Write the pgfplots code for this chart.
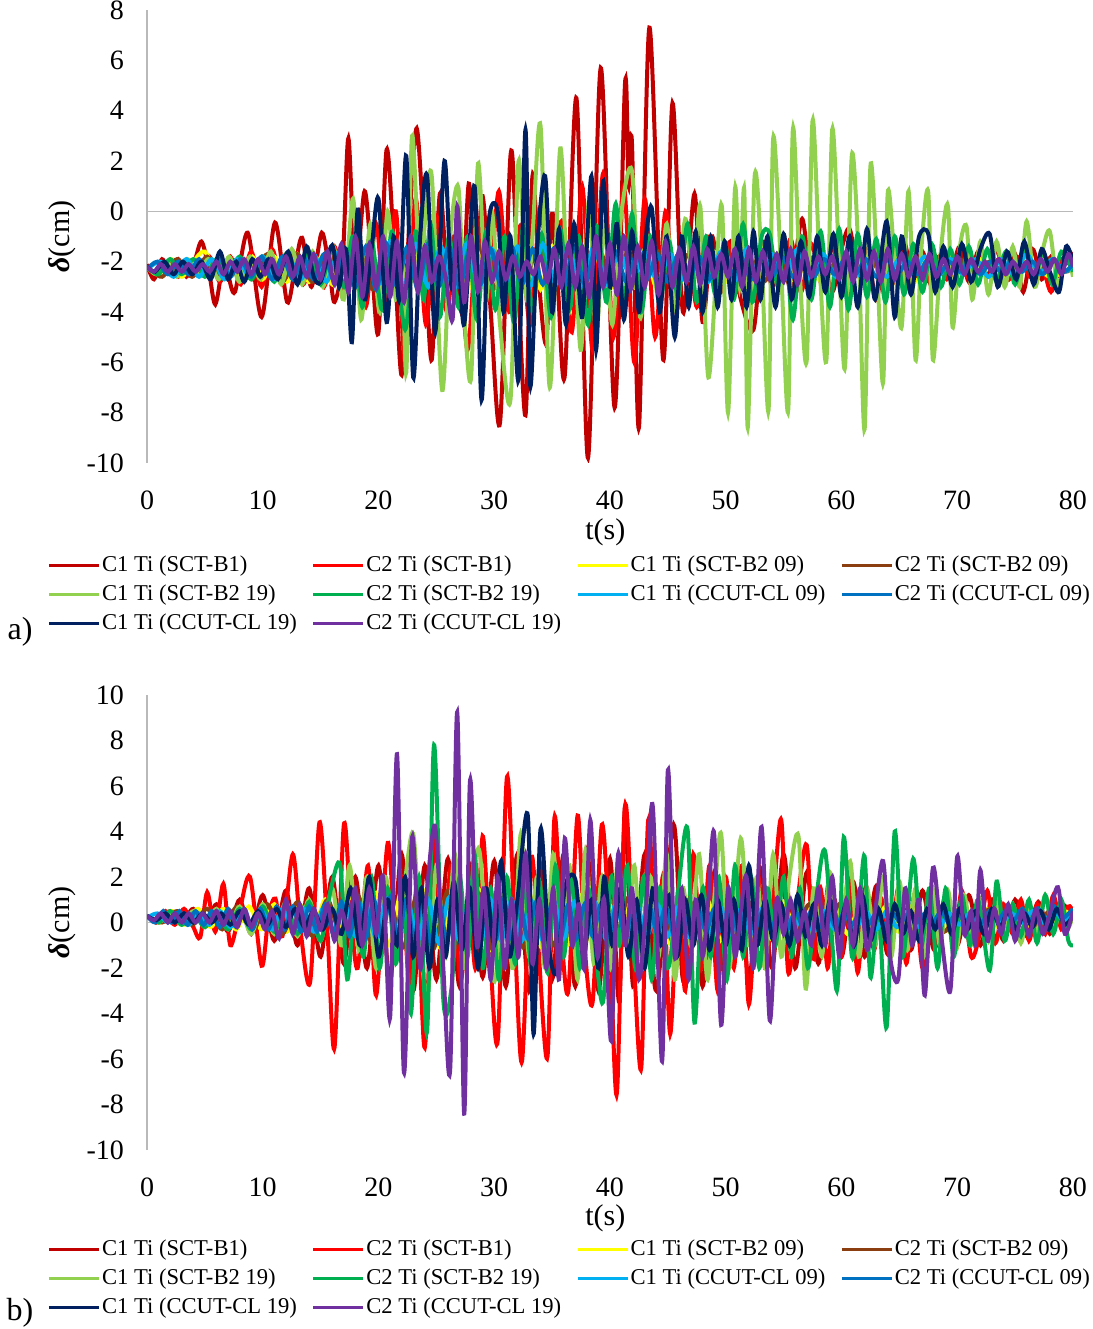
\documentclass[border=0pt]{standalone}
\usepackage{fontspec}
\setmainfont{Liberation Serif}
\usepackage{pgfplots}
\pgfplotsset{compat=1.18}
\definecolor{cA}{HTML}{C00000}
\definecolor{cB}{HTML}{FF0000}
\definecolor{cC}{HTML}{FFFF00}
\definecolor{cD}{HTML}{8B3E10}
\definecolor{cE}{HTML}{92D050}
\definecolor{cF}{HTML}{00B050}
\definecolor{cG}{HTML}{00B0F0}
\definecolor{cH}{HTML}{0070C0}
\definecolor{cI}{HTML}{002060}
\definecolor{cJ}{HTML}{7030A0}
\pgfplotsset{common/.style={
  scale only axis, width=463pt, xmin=0, xmax=80, xtick={0,10,...,80},
  axis lines*=left, x axis line style={draw=none},
  y axis line style={-, draw=gray!55, line width=0.7pt},
  major tick length=0pt,
  tick label style={font=\fontsize{14}{16}\selectfont},
  /pgf/number format/assume math mode=true,
  xticklabel style={yshift=-10.5pt}, yticklabel style={xshift=-8pt},
  extra y ticks={0}, extra y tick labels={},
  extra y tick style={ymajorgrids=true, major grid style={gray!55, line width=0.7pt}},
  xlabel={t(s)}, ylabel={\textbf{\textit{δ}}(cm)},
  label style={font=\fontsize{15}{18}\selectfont},
  ylabel style={at={(axis description cs:-0.092,0.5)}, anchor=center},
  every axis plot/.append style={line width=2pt, smooth, no markers},
  legend columns=4, legend cell align=left,
  legend style={draw=none, fill=none, anchor=north west, inner sep=0pt,
    font=\fontsize{11.3}{13}\selectfont, row sep=0pt,
    /tikz/every even column/.append style={column sep=6.6pt},
    nodes={inner xsep=0.75pt, inner ysep=1.5pt, text height=8.8pt, text depth=2.7pt}},
  legend image code/.code={\draw[line width=1.6pt] (0pt,0pt) -- (25pt,0pt);}
}}
\begin{document}
\begin{tikzpicture}
\path[use as bounding box] (0,0) rectangle (546.5pt,664.5pt);
% ---------------- panel a ----------------
\begin{axis}[common, at={(73.5pt,433pt)}, anchor=south west, height=226.5pt,
  ymin=-10, ymax=8, ytick={-10,-8,...,8},
  xlabel style={at={(axis description cs:0.495,-0.154)}, anchor=center},
  legend style={at={(axis description cs:-0.108,-0.193)}}]
\addplot[cA] coordinates {(0,-2.1)(0.6,-2.7)(1.3,-1.9)(2.0,-2.5)(2.7,-1.9)(3.4,-2.6)(4.1,-2.0)(4.7,-1.2)(5.3,-2.2)(5.9,-3.7)(6.6,-2.0)(7.0,-2.5)(7.6,-3.2)(8.7,-0.85)(9.9,-4.2)(11.06,-0.45)(12.1,-3.6)(12.8,-2.2)(13.4,-1.05)(14.2,-3.0)(15.1,-0.85)(15.8,-2.5)(16.2,-3.6)(16.9,-2.0)(17.4,2.9)(18.0,-2.4)(18.8,0.8)(19.4,-2.0)(20.0,-4.8)(20.7,2.45)(21.4,-2.0)(22.0,-6.5)(22.6,-1.0)(23.3,3.3)(24.0,-1.5)(24.6,-5.9)(25.3,0.7)(26.0,-3.0)(26.5,-1.0)(27.2,-4.0)(27.8,1.1)(28.4,-2.5)(29.0,0.6)(29.7,-4.0)(30.5,-8.4)(31.4,2.2)(31.9,-1.0)(32.7,-8.1)(33.3,1.4)(33.9,-3.0)(34.5,-5.2)(35.0,-0.1)(35.5,-3.0)(36.1,-6.5)(37.1,4.5)(38.1,-9.8)(39.2,5.7)(40.4,-7.8)(41.3,5.1)(41.6,1.0)(41.9,2.7)(42.5,-8.6)(43.4,7.3)(44.6,-5.9)(45.4,4.3)(46.3,-4.0)(47.3,0.7)(48.0,-4.4)(48.8,-1.0)(49.6,-3.2)(50.4,-1.2)(51.3,-3.5)(52.4,-4.7)(53.2,-1.2)(54.0,-3.0)(54.8,-1.5)(55.6,-3.0)(56.6,-0.3)(57.4,-3.0)(58.2,-1.5)(59.2,-3.2)(60.0,-1.5)(60.7,-0.7)(61.5,-2.5)(62.2,-1.5)(63.0,-3.5)(63.8,-1.5)(64.6,-2.8)(65.4,-1.2)(66.2,-2.8)(67.0,-1.6)(67.8,-3.0)(68.6,-1.7)(69.4,-2.6)(70.2,-1.4)(71.0,-2.8)(71.8,-1.6)(72.6,-2.6)(73.4,-1.5)(74.2,-2.8)(75.0,-1.7)(75.7,-3.2)(76.5,-1.5)(77.3,-2.7)(78.1,-1.8)(78.9,-2.6)(79.5,-1.6)(80,-1.8)};
\addlegendentry{C1 Ti (SCT-B1)}
\addplot[cB] coordinates {(0,-2.2)(0.9,-2.5)(1.8,-2.0)(2.7,-2.6)(3.6,-2.0)(4.5,-2.5)(5.4,-1.8)(6.3,-2.8)(7.2,-1.8)(8.1,-2.9)(9.0,-1.6)(9.9,-3.0)(10.8,-1.5)(11.7,-2.9)(12.6,-1.6)(13.5,-2.9)(14.4,-1.7)(15.3,-3.0)(16.2,-1.4)(17.1,-3.2)(18.0,-0.9)(18.9,-3.8)(19.8,-0.5)(20.6,-4.0)(21.5,0.0)(22.3,-6.0)(23.2,0.5)(24.1,-4.5)(25.0,-0.2)(25.9,-4.0)(26.8,-0.8)(27.7,-5.5)(28.6,-0.4)(29.5,-3.5)(30.4,0.8)(31.3,-4.0)(32.2,-0.6)(33.1,-4.5)(34.0,0.2)(34.9,-4.0)(35.8,-0.4)(36.7,-4.8)(37.6,1.0)(38.5,-5.5)(39.4,1.5)(40.3,-5.0)(41.2,1.0)(42.1,-6.0)(43.0,0.5)(43.9,-5.0)(44.8,0.0)(45.7,-4.0)(46.6,-0.8)(47.5,-3.8)(48.4,-1.0)(49.3,-3.0)(50.2,-1.3)(51.1,-3.2)(52.0,-1.5)(52.9,-3.0)(53.8,-1.3)(54.7,-3.0)(55.6,-1.1)(56.5,-3.2)(57.4,-1.3)(58.3,-2.9)(59.2,-1.4)(60.1,-3.0)(61.0,-1.5)(61.9,-2.8)(62.8,-1.6)(63.7,-2.8)(64.6,-1.7)(65.5,-2.7)(66.4,-1.7)(67.3,-2.8)(68.2,-1.8)(69.1,-2.7)(70.0,-1.8)(70.9,-2.6)(71.8,-1.9)(72.7,-2.6)(73.6,-1.9)(74.5,-2.7)(75.4,-1.8)(76.3,-2.6)(77.2,-1.9)(78.1,-3.2)(79.0,-1.9)(80,-2.3)};
\addlegendentry{C2 Ti (SCT-B1)}
\addplot[cC] coordinates {(0,-2.2)(1.0,-2.5)(2.1,-1.9)(3.0,-2.6)(4.0,-2.0)(5.0,-1.6)(6.1,-2.6)(7.0,-1.9)(8.0,-2.6)(9.1,-1.8)(10.0,-2.7)(11.0,-1.8)(12.1,-2.8)(13.0,-1.7)(14.0,-2.8)(15.1,-1.8)(16.0,-2.9)(17.0,-1.6)(18.1,-3.0)(19.0,-1.5)(20.0,-3.1)(21.1,-1.5)(22.0,-3.2)(23.0,-1.4)(24.1,-3.0)(25.0,-1.5)(26.0,-3.1)(27.1,-1.4)(28.0,-3.0)(29.0,-1.5)(30.1,-3.2)(31.0,-1.3)(32.0,-3.0)(33.1,-1.4)(34.0,-3.1)(35.0,-1.4)(36.1,-3.0)(37.0,-1.5)(38.0,-3.0)(39.1,-1.4)(40.0,-3.1)(41.0,-1.5)(42.1,-3.0)(43.0,-1.5)(44.0,-3.0)(45.1,-1.6)(46.0,-2.9)(47.0,-1.6)(48.1,-2.9)(49.0,-1.6)(50.0,-2.8)(51.1,-1.7)(52.0,-2.9)(53.0,-1.7)(54.1,-2.8)(55.0,-1.7)(56.0,-2.8)(57.1,-1.8)(58.0,-2.7)(59.0,-1.7)(60.1,-2.8)(61.0,-1.8)(62.0,-2.7)(63.1,-1.8)(64.0,-2.8)(65.0,-1.8)(66.1,-3.0)(67.0,-1.8)(68.0,-2.7)(69.1,-1.9)(70.0,-2.6)(72.0,-1.9)(74.0,-2.6)(76.0,-1.9)(78.0,-2.6)(80,-2.2)};
\addlegendentry{C1 Ti (SCT-B2 09)}
\addplot[cD] coordinates {(0,-2.2)(1.3,-2.6)(2.6,-1.9)(3.9,-2.6)(5.2,-1.8)(6.5,-2.7)(7.8,-1.9)(9.1,-2.7)(10.4,-1.7)(11.7,-2.8)(13.0,-1.7)(14.3,-2.8)(15.6,-1.6)(16.9,-2.9)(18.2,-1.4)(19.5,-3.1)(20.8,-1.3)(22.1,-3.2)(23.4,-1.3)(24.7,-3.1)(26.0,-1.4)(27.3,-3.2)(28.6,-1.3)(29.9,-3.1)(31.2,-1.4)(32.5,-3.0)(33.8,-1.4)(35.1,-3.1)(36.4,-1.5)(37.7,-3.0)(39.0,-1.5)(40.3,-2.9)(41.6,-1.6)(42.9,-2.9)(44.2,-1.6)(45.5,-2.8)(46.8,-1.7)(48.1,-2.8)(49.4,-1.7)(50.7,-2.7)(52.0,-1.8)(53.3,-2.8)(54.6,-1.7)(55.9,-2.7)(57.2,-1.8)(58.5,-2.7)(59.8,-1.8)(61.1,-2.6)(62.4,-1.9)(63.7,-2.6)(65.0,-1.9)(66.3,-2.6)(67.6,-1.9)(68.9,-2.5)(70.2,-1.9)(71.5,-2.5)(72.8,-2.0)(74.1,-2.5)(75.4,-2.0)(76.7,-2.5)(78.0,-1.9)(79.3,-2.4)(80,-2.2)};
\addlegendentry{C2 Ti (SCT-B2 09)}
\addplot[cE] coordinates {(0,-2.2)(0.8,-2.5)(1.7,-2.0)(2.6,-2.6)(3.5,-1.9)(4.4,-2.5)(5.3,-1.9)(6.2,-2.7)(7.1,-1.8)(8.0,-2.8)(8.9,-1.8)(9.8,-2.7)(10.7,-1.6)(11.6,-2.9)(12.5,-1.5)(13.4,-2.9)(14.3,-1.6)(15.2,-3.0)(16.1,-1.4)(17.0,-3.5)(17.8,0.5)(18.5,-4.3)(19.3,-0.5)(20.1,-4.0)(20.8,0.0)(21.5,-3.5)(22.0,-1.0)(22.4,-6.4)(22.9,3.0)(23.6,-3.0)(24.0,-0.5)(24.6,1.4)(25.5,-7.1)(26.2,-1.0)(26.9,0.95)(27.4,-4.0)(28.0,-6.6)(28.6,1.9)(29.3,-3.5)(29.8,0.0)(30.5,-4.5)(31.4,-7.5)(32.1,2.0)(32.8,-3.5)(33.3,-1.0)(34.0,3.4)(34.8,-7.0)(35.7,2.5)(36.4,-4.0)(36.9,-1.5)(37.5,-5.5)(38.2,0.5)(38.8,-5.0)(39.5,-0.5)(40.2,-4.5)(41.0,0.0)(41.9,1.6)(42.6,-4.2)(43.4,-1.0)(44.2,-3.5)(44.9,-0.5)(45.7,-4.0)(46.5,-0.3)(47.2,-3.0)(47.8,0.2)(48.5,-6.6)(49.3,-1.5)(49.7,0.0)(50.2,-8.0)(50.8,0.9)(51.2,-3.0)(51.6,0.85)(51.9,-8.6)(52.5,1.4)(53.1,-2.0)(53.7,-7.9)(54.1,2.9)(54.8,-2.5)(55.4,-7.9)(55.8,3.25)(56.4,-2.5)(57.0,-5.9)(57.5,3.6)(58.1,-2.0)(58.7,-5.9)(59.2,3.25)(59.8,-2.0)(60.3,-6.2)(60.9,2.25)(61.5,-2.0)(62.0,-8.65)(62.5,1.8)(63.1,-2.5)(63.6,-6.8)(64.0,0.75)(64.6,-2.0)(65.2,-4.6)(65.8,0.8)(66.4,-5.9)(66.9,-1.5)(67.5,0.75)(67.9,-5.9)(68.6,-1.5)(69.2,0.2)(69.6,-4.6)(70.2,-1.5)(70.8,-0.6)(71.3,-3.5)(72.0,-1.2)(72.7,-3.3)(73.4,-1.2)(74.1,-3.0)(74.8,-1.4)(75.4,-3.0)(76.0,-0.4)(76.7,-3.0)(77.4,-1.5)(78.0,-0.8)(78.7,-3.0)(79.4,-1.6)(80,-2.6)};
\addlegendentry{C1 Ti (SCT-B2 19)}
\addplot[cF] coordinates {(0,-2.2)(1.0,-2.5)(2.0,-1.9)(3.0,-2.5)(4.0,-1.9)(5.0,-2.6)(6.0,-1.9)(7.0,-2.6)(8.0,-1.8)(9.0,-2.7)(10.0,-1.8)(11.0,-2.8)(12.0,-1.7)(13.0,-2.8)(14.0,-1.6)(15.0,-2.9)(16.0,-1.5)(17.0,-3.0)(17.8,-1.0)(18.6,-3.8)(19.4,-1.2)(20.3,-3.9)(21.2,-0.8)(22.3,-4.7)(23.2,-0.8)(23.9,-3.5)(24.5,-0.5)(25.3,-4.2)(26.1,-1.0)(26.9,-3.8)(27.7,-1.0)(28.5,-4.3)(29.3,-0.8)(30.1,-3.9)(30.9,-1.0)(31.7,-4.4)(32.5,-0.6)(33.3,-4.0)(34.1,-0.9)(34.9,-4.2)(35.7,-0.7)(36.5,-3.9)(37.3,-1.0)(38.1,-4.5)(38.9,-0.6)(39.7,-3.6)(40.5,0.3)(41.2,-3.8)(41.9,-0.1)(42.7,-4.0)(43.5,-1.0)(44.3,-3.7)(45.1,-1.2)(45.9,-3.4)(46.7,-0.5)(47.5,-3.6)(48.3,-1.0)(49.1,-3.3)(49.9,-1.2)(50.7,-3.5)(51.5,-0.5)(52.3,-3.6)(53.1,-1.0)(53.8,-0.9)(54.5,-3.0)(55.1,-1.2)(55.8,-4.3)(56.6,-1.0)(57.4,-3.5)(58.2,-0.8)(59.0,-3.8)(59.8,-0.7)(60.6,-3.9)(61.4,-0.9)(62.2,-3.4)(63.0,-1.1)(63.8,-3.6)(64.6,-1.0)(65.4,-3.3)(66.2,-1.3)(67.0,-3.2)(67.8,-1.3)(68.6,-3.0)(69.4,-1.5)(70.2,-2.9)(71.0,-1.4)(71.8,-2.9)(72.6,-1.5)(73.4,-2.8)(74.2,-1.6)(75.0,-2.9)(75.8,-1.5)(76.6,-2.8)(77.4,-1.6)(78.2,-2.9)(79.0,-1.6)(80,-2.4)};
\addlegendentry{C2 Ti (SCT-B2 19)}
\addplot[cG] coordinates {(0,-2.3)(1.2,-2.0)(2.3,-2.6)(3.4,-1.9)(4.5,-2.6)(5.6,-1.9)(6.7,-2.7)(7.8,-1.9)(8.9,-2.6)(10.0,-1.8)(11.1,-2.7)(12.2,-1.8)(13.3,-2.7)(14.4,-1.7)(15.5,-2.8)(16.6,-1.6)(17.7,-2.9)(18.8,-1.5)(19.9,-3.0)(21.0,-1.2)(22.1,-3.1)(23.2,-1.3)(24.3,-3.0)(25.4,-1.4)(26.5,-3.1)(27.6,-1.3)(28.7,-3.0)(29.8,-1.5)(30.9,-2.9)(32.0,-1.4)(33.1,-3.0)(34.2,-1.3)(35.3,-2.9)(36.4,-1.5)(37.5,-3.0)(38.6,-1.4)(39.7,-2.9)(40.8,-1.6)(41.9,-2.8)(43.0,-1.6)(44.1,-2.8)(45.2,-1.7)(46.3,-2.7)(47.4,-1.7)(48.5,-2.8)(49.6,-1.6)(50.7,-2.8)(51.8,-1.5)(52.9,-2.9)(54.0,-1.7)(55.1,-2.7)(56.2,-1.5)(57.3,-2.7)(58.4,-1.7)(59.5,-2.6)(60.6,-1.8)(61.7,-2.6)(62.8,-1.8)(63.9,-2.6)(65.0,-1.9)(66.1,-2.5)(67.2,-1.8)(68.3,-2.6)(69.4,-1.9)(70.5,-2.5)(71.6,-1.9)(72.7,-2.6)(73.8,-1.9)(74.9,-2.5)(76.0,-1.7)(77.1,-2.5)(78.2,-1.9)(79.3,-2.4)(80,-2.1)};
\addlegendentry{C1 Ti (CCUT-CL 09)}
\addplot[cH] coordinates {(0,-2.3)(0.9,-2.0)(1.8,-2.5)(2.7,-2.0)(3.6,-2.5)(4.5,-1.9)(5.4,-2.6)(6.3,-1.9)(7.2,-2.6)(8.1,-1.9)(9.0,-2.6)(9.9,-1.8)(10.8,-2.7)(11.7,-1.8)(12.6,-2.7)(13.5,-1.8)(14.4,-2.7)(15.3,-1.7)(16.2,-2.8)(17.1,-1.5)(18.0,-3.0)(18.9,-1.4)(19.8,-3.1)(20.7,-1.3)(21.6,-3.0)(22.5,-1.4)(23.4,-3.1)(24.3,-1.3)(25.2,-3.0)(26.1,-1.4)(27.0,-3.0)(27.9,-1.5)(28.8,-2.9)(29.7,-1.5)(30.6,-3.0)(31.5,-1.4)(32.4,-2.9)(33.3,-1.5)(34.2,-2.9)(35.1,-1.5)(36.0,-3.0)(36.9,-1.4)(37.8,-2.9)(38.7,-1.6)(39.6,-2.8)(40.5,-1.6)(41.4,-2.8)(42.3,-1.7)(43.2,-2.7)(44.1,-1.7)(45.0,-2.8)(45.9,-1.7)(46.8,-2.7)(47.7,-1.8)(48.6,-2.7)(49.5,-1.8)(50.4,-2.6)(51.3,-1.8)(52.2,-2.7)(53.1,-1.8)(54.0,-2.6)(54.9,-1.8)(55.8,-2.6)(56.7,-1.9)(57.6,-2.6)(58.5,-1.9)(59.4,-2.5)(60.3,-1.9)(61.2,-2.5)(62.1,-1.9)(63.0,-2.6)(63.9,-1.9)(64.8,-2.5)(65.7,-2.0)(66.6,-2.5)(67.5,-1.9)(68.4,-2.5)(69.3,-2.0)(70.2,-2.4)(71.1,-2.0)(72.0,-2.5)(72.9,-2.0)(73.8,-2.4)(74.7,-2.0)(75.6,-2.4)(76.5,-2.0)(77.4,-2.5)(78.3,-1.9)(79.2,-2.4)(80,-2.1)};
\addlegendentry{C2 Ti (CCUT-CL 09)}
\addplot[cI] coordinates {(0,-2.2)(0.7,-2.4)(1.5,-2.0)(2.3,-2.5)(3.1,-2.0)(3.9,-2.5)(4.7,-2.0)(5.5,-2.7)(6.3,-1.6)(7.0,-2.7)(7.7,-2.0)(8.4,-2.8)(9.1,-1.9)(9.8,-2.6)(10.5,-1.9)(11.3,-2.7)(12.2,-1.6)(13.0,-2.9)(13.8,-1.4)(14.4,-2.6)(15.0,-2.8)(16.0,-1.35)(16.6,-3.0)(17.2,-1.5)(17.7,-5.2)(18.2,0.07)(18.8,-3.5)(19.4,-1.5)(20.0,0.5)(20.7,-4.4)(21.3,-1.0)(21.8,-3.5)(22.4,2.2)(23.0,-6.6)(23.6,-1.0)(24.2,1.4)(24.9,-4.8)(25.7,2.0)(26.3,-3.0)(26.8,-1.0)(27.4,-4.5)(28.3,1.0)(28.9,-7.5)(29.5,-0.5)(30.3,0.0)(30.8,-4.0)(31.4,-1.0)(32.1,-6.7)(32.7,3.25)(33.1,-6.9)(33.7,-1.5)(34.4,1.4)(35.0,-4.0)(35.6,-0.7)(36.2,-4.5)(36.9,-0.5)(37.6,-4.2)(38.4,1.4)(38.8,-5.5)(39.4,1.2)(40.0,-3.0)(40.6,-0.5)(41.2,-4.3)(41.9,-0.8)(42.5,-4.0)(43.0,-1.5)(43.6,0.15)(44.3,-4.0)(44.9,-1.0)(45.6,-5.0)(46.2,-1.0)(46.8,-3.8)(47.4,-0.8)(48.0,-4.0)(48.7,-1.0)(49.3,-3.8)(49.9,-1.2)(50.5,-3.5)(51.1,-1.0)(51.8,-3.8)(52.4,-0.8)(53.0,-3.5)(53.6,-1.0)(54.3,-3.8)(55.0,-0.9)(55.7,-3.5)(56.5,-1.2)(57.2,-3.4)(57.9,-1.0)(58.6,-3.2)(59.3,-0.9)(60.0,-3.4)(60.7,-1.0)(61.4,-3.8)(62.2,-0.7)(62.9,-3.5)(63.9,-0.4)(64.6,-4.2)(65.2,-1.0)(66.0,-3.3)(66.7,-1.0)(67.5,-0.9)(68.1,-3.2)(68.8,-1.4)(69.6,-3.0)(70.4,-1.3)(71.2,-2.8)(72.0,-1.5)(72.8,-0.9)(73.5,-3.0)(74.3,-1.6)(75.1,-2.7)(75.8,-1.2)(76.6,-2.9)(77.3,-1.5)(78.0,-2.4)(78.8,-3.2)(79.4,-1.4)(80,-2.0)};
\addlegendentry{C1 Ti (CCUT-CL 19)}
\addplot[cJ] coordinates {(0,-2.2)(0.6,-2.4)(1.2,-2.1)(1.8,-2.4)(2.4,-2.1)(3.0,-2.4)(3.6,-2.1)(4.2,-2.4)(4.8,-2.1)(5.4,-2.4)(6.0,-2.0)(6.6,-2.5)(7.2,-2.0)(7.8,-2.4)(8.4,-1.9)(9.0,-2.5)(9.6,-1.9)(10.2,-2.5)(10.8,-1.9)(11.4,-2.5)(12.0,-1.8)(12.6,-2.6)(13.2,-1.8)(13.8,-2.6)(14.4,-1.7)(15.0,-2.7)(15.6,-1.6)(16.2,-2.9)(16.8,-1.3)(17.4,-3.2)(18.0,-1.0)(18.6,-3.4)(19.2,-1.3)(19.8,-3.0)(20.4,-1.0)(21.0,-3.4)(21.6,-1.2)(22.2,-3.6)(22.8,-1.0)(23.4,-3.2)(24.0,-1.4)(24.6,-2.8)(25.2,-1.8)(25.8,-2.6)(26.4,-4.3)(26.8,0.2)(27.4,-3.6)(28.0,-1.0)(28.6,-3.2)(29.2,-1.2)(29.8,-2.8)(30.4,-1.6)(31.0,-2.7)(31.6,-1.8)(32.2,-2.6)(32.8,-2.0)(33.4,-2.5)(34.0,-1.8)(34.6,-2.8)(35.2,-1.5)(35.8,-3.0)(36.4,-1.3)(37.0,-3.0)(37.6,-1.4)(38.2,-3.4)(38.8,-1.0)(39.4,-3.0)(40.0,-1.3)(40.6,-3.3)(41.2,-1.0)(41.8,-3.1)(42.4,-1.4)(43.0,-3.0)(43.6,-1.2)(44.2,-3.3)(44.8,-1.2)(45.4,-3.0)(46.0,-1.5)(46.6,-2.8)(47.2,-1.4)(47.8,-2.9)(48.4,-1.5)(49.0,-2.6)(49.6,-1.7)(50.2,-2.6)(50.8,-1.5)(51.4,-3.0)(52.0,-1.5)(52.6,-2.8)(53.2,-1.6)(53.8,-2.7)(54.4,-1.7)(55.0,-2.8)(55.6,-1.5)(56.2,-2.9)(56.8,-1.6)(57.4,-2.6)(58.0,-1.8)(58.6,-2.5)(59.2,-1.8)(59.8,-2.7)(60.4,-1.6)(61.0,-2.8)(61.6,-1.5)(62.2,-2.7)(62.8,-1.6)(63.4,-2.8)(64.0,-1.5)(64.6,-2.7)(65.2,-1.7)(65.8,-2.6)(66.4,-1.8)(67.0,-2.7)(67.6,-1.7)(68.2,-2.6)(68.8,-1.9)(69.4,-2.5)(70.0,-1.8)(70.6,-2.5)(71.2,-1.9)(71.8,-2.4)(72.4,-2.0)(73.0,-2.4)(73.6,-1.9)(74.2,-2.5)(74.8,-2.0)(75.4,-2.4)(76.0,-2.0)(76.6,-2.5)(77.2,-1.9)(77.8,-2.4)(78.4,-1.9)(79.0,-2.5)(79.6,-1.7)(80,-2.2)};
\addlegendentry{C2 Ti (CCUT-CL 19)}
\end{axis}
% ---------------- panel b ----------------
\begin{axis}[common, at={(73.5pt,89.5pt)}, anchor=south west, height=227.5pt,
  ymin=-10, ymax=10, ytick={-10,-8,...,10},
  xlabel style={at={(axis description cs:0.495,-0.149)}, anchor=center},
  legend style={at={(axis description cs:-0.108,-0.186)}}]
\addplot[cA] coordinates {(0,0.3)(1.0,0.1)(2.0,0.5)(3.0,0.0)(4.0,0.6)(5.0,-0.2)(6.0,0.8)(7.0,-0.4)(8.0,1.0)(9.0,-0.5)(10.0,1.2)(11.0,-0.8)(12.0,1.4)(13.0,-1.0)(14.0,1.5)(15.0,-1.5)(16.0,2.0)(17.0,-1.8)(18.0,2.0)(19.0,-2.0)(20.0,2.5)(21.0,-2.5)(22.0,3.0)(23.0,-3.0)(24.0,2.5)(25.0,-2.5)(26.0,2.8)(27.0,-2.8)(28.0,2.5)(29.0,-2.4)(30.0,2.7)(31.0,-2.8)(32.0,3.0)(33.0,-3.0)(34.0,2.6)(35.0,-2.5)(36.0,3.0)(37.0,-2.8)(38.0,3.2)(39.0,-3.0)(40.0,2.8)(40.8,-3.5)(41.3,5.1)(42.0,-2.8)(43.0,3.0)(44.0,-3.0)(45.5,4.3)(46.3,-2.5)(47.2,2.6)(48.0,-2.8)(49.0,2.2)(50.0,-2.4)(51.0,2.6)(52.0,-2.5)(53.0,2.4)(54.0,-2.0)(55.0,3.0)(56.0,-2.0)(57.0,2.2)(58.0,-1.8)(59.0,2.0)(60.0,-1.5)(61.0,1.8)(62.0,-1.5)(63.0,1.6)(64.0,-1.4)(65.0,1.5)(66.0,-1.2)(67.0,1.4)(68.0,-1.2)(69.0,1.2)(70.0,-1.0)(71.0,1.2)(72.0,-1.0)(73.0,1.0)(74.0,-0.8)(75.0,1.0)(76.0,-0.6)(77.0,0.9)(78.0,-0.5)(79.0,0.8)(80,0.2)};
\addlegendentry{C1 Ti (SCT-B1)}
\addplot[cB] coordinates {(0,0.3)(0.8,0.0)(1.6,0.5)(2.4,-0.1)(3.2,0.6)(4.0,-0.2)(4.6,-0.65)(5.2,1.33)(5.9,-0.4)(6.6,1.7)(7.2,-1.0)(8.0,0.5)(8.9,2.0)(9.9,-1.9)(10.5,0.3)(11.1,1.05)(11.7,-0.6)(12.6,3.0)(13.3,-0.5)(14.1,-2.6)(14.9,4.4)(15.6,-0.5)(16.2,-5.5)(17.0,4.26)(17.6,0.5)(18.2,-2.0)(19.1,2.5)(19.8,-3.2)(20.8,3.5)(21.5,-1.0)(22.0,2.0)(22.7,-3.0)(23.3,1.5)(24.0,-5.5)(24.8,3.5)(25.5,-1.5)(26.3,2.5)(27.1,-2.5)(27.8,1.0)(28.4,-2.0)(29.0,3.8)(29.6,-1.0)(30.3,-5.2)(31.1,6.4)(31.8,-1.0)(32.4,-6.1)(33.2,2.8)(33.8,-1.0)(34.6,-5.9)(35.2,4.6)(35.8,-0.5)(36.4,-3.0)(37.2,4.7)(37.8,-1.0)(38.5,-3.5)(39.3,4.3)(40.0,-1.0)(40.6,-7.5)(41.3,5.1)(42.0,-1.0)(42.7,-6.4)(43.3,4.5)(44.0,-1.5)(44.6,2.0)(45.2,-4.9)(45.9,1.5)(46.5,-3.0)(47.2,3.0)(47.9,-2.0)(48.6,2.5)(49.3,-3.0)(50.0,2.0)(50.7,-2.0)(51.4,2.5)(52.0,-3.6)(52.8,2.0)(53.4,-2.0)(54.1,1.0)(54.8,4.5)(55.4,-2.2)(56.2,1.0)(57.0,3.4)(57.6,-1.6)(58.2,1.5)(58.8,-2.0)(59.4,1.0)(60.0,-1.5)(60.7,2.0)(61.4,-2.2)(62.1,1.6)(62.8,-1.2)(63.5,1.0)(64.2,-1.5)(64.9,1.5)(65.6,-1.8)(66.3,1.2)(67.0,-2.0)(67.7,0.8)(68.4,-1.0)(69.1,1.0)(69.7,-1.2)(70.4,1.4)(71.2,-1.5)(71.9,-0.6)(72.6,1.4)(73.3,-0.9)(74.0,0.8)(74.8,-0.5)(75.5,1.0)(76.2,-0.8)(76.9,0.8)(77.6,-0.5)(78.3,1.2)(79.0,-0.3)(79.6,0.7)(80,0.5)};
\addlegendentry{C2 Ti (SCT-B1)}
\addplot[cC] coordinates {(0,0.3)(1.1,0.0)(2.2,0.5)(3.3,-0.1)(4.4,0.6)(5.5,-0.2)(6.6,0.6)(7.7,-0.3)(8.8,0.7)(9.9,-0.3)(11.0,0.8)(12.1,-0.4)(13.2,0.8)(14.3,-0.5)(15.4,1.0)(16.5,-0.6)(17.6,1.2)(18.7,-0.8)(19.8,1.3)(20.9,-1.0)(22.0,1.4)(23.1,-1.0)(24.2,1.5)(25.3,-1.1)(26.4,1.4)(27.5,-1.0)(28.6,1.5)(29.7,-1.2)(30.8,1.4)(31.9,-1.0)(33.0,1.3)(34.1,-1.1)(35.2,1.4)(36.3,-1.0)(37.4,1.2)(38.5,-1.0)(39.6,1.3)(40.7,-0.9)(41.8,1.2)(42.9,-1.0)(44.0,1.1)(45.1,-0.9)(46.2,1.0)(47.3,-0.8)(48.4,1.0)(49.5,-0.8)(50.6,1.0)(51.7,-0.7)(52.8,0.9)(53.9,-0.7)(55.0,0.9)(56.1,-0.6)(57.2,0.8)(58.3,-0.6)(59.4,0.8)(60.5,-0.5)(61.6,0.7)(62.7,-0.5)(63.8,0.7)(64.9,-0.4)(66.0,0.7)(67.1,-0.4)(68.2,0.6)(69.3,-0.4)(70.4,0.6)(71.5,-0.3)(72.6,0.6)(73.7,-0.3)(74.8,0.5)(75.9,-0.2)(77.0,0.5)(78.1,-0.2)(79.2,0.5)(80,0.2)};
\addlegendentry{C1 Ti (SCT-B2 09)}
\addplot[cD] coordinates {(0,0.3)(1.3,0.0)(2.6,0.5)(3.9,-0.1)(5.2,0.6)(6.5,-0.3)(7.8,0.7)(9.1,-0.4)(10.4,0.8)(11.7,-0.5)(13.0,0.9)(14.3,-0.6)(15.6,1.0)(16.9,-0.8)(18.2,1.2)(19.5,-1.0)(20.8,1.3)(22.1,-1.1)(23.4,1.3)(24.7,-1.2)(26.0,1.4)(27.3,-1.1)(28.6,1.3)(29.9,-1.2)(31.2,1.4)(32.5,-1.1)(33.8,1.2)(35.1,-1.0)(36.4,1.3)(37.7,-1.0)(39.0,1.2)(40.3,-1.0)(41.6,1.1)(42.9,-0.9)(44.2,1.0)(45.5,-0.9)(46.8,1.0)(48.1,-0.8)(49.4,1.0)(50.7,-0.8)(52.0,0.9)(53.3,-0.7)(54.6,0.9)(55.9,-0.6)(57.2,0.8)(58.5,-0.6)(59.8,0.8)(61.1,-0.5)(62.4,0.7)(63.7,-0.5)(65.0,0.7)(66.3,-0.4)(67.6,0.6)(68.9,-0.4)(70.2,0.6)(71.5,-0.3)(72.8,0.6)(74.1,-0.3)(75.4,0.5)(76.7,-0.2)(78.0,0.5)(79.3,-0.1)(80,0.3)};
\addlegendentry{C2 Ti (SCT-B2 09)}
\addplot[cE] coordinates {(0,0.3)(1.0,0.0)(2.0,0.4)(3.0,-0.1)(4.0,0.5)(5.0,-0.2)(6.0,0.6)(7.0,-0.3)(8.0,0.7)(9.0,-0.5)(10.0,0.8)(11.0,-0.5)(12.0,0.9)(13.0,-0.6)(14.0,1.0)(15.0,-0.8)(16.0,1.5)(16.8,-1.0)(17.5,2.5)(18.3,-1.2)(19.0,2.0)(19.8,-2.0)(20.6,2.0)(21.4,-1.0)(22.2,1.5)(23.0,3.9)(23.7,-1.5)(24.3,-3.0)(25.0,2.5)(25.8,-1.5)(26.6,3.0)(27.3,-2.0)(28.0,1.5)(28.7,3.2)(29.4,-1.0)(30.1,-2.5)(30.8,2.0)(31.6,-2.0)(32.3,3.9)(33.0,-1.5)(33.7,2.0)(34.4,-2.0)(35.1,3.0)(35.8,-1.0)(36.5,2.5)(37.2,-2.5)(37.9,3.2)(38.6,-1.8)(39.3,2.0)(40.0,-2.0)(40.7,2.8)(41.4,-1.0)(42.1,2.5)(42.8,-2.0)(43.5,2.0)(44.2,-1.5)(44.9,3.0)(45.6,-2.5)(46.3,1.5)(47.0,-1.0)(47.7,3.0)(48.4,-2.5)(49.0,1.0)(49.6,3.9)(50.3,-2.0)(51.3,3.7)(52.0,-1.0)(52.7,2.0)(53.4,-2.0)(54.1,3.0)(54.8,-1.5)(55.5,2.0)(56.3,3.75)(56.9,-2.9)(57.6,1.5)(58.3,-1.5)(59.0,2.2)(59.7,-1.0)(60.4,1.5)(60.8,2.6)(61.5,-1.5)(62.2,1.5)(62.9,-1.0)(63.6,2.0)(64.3,-1.5)(65.0,1.8)(65.7,-1.2)(66.4,1.5)(67.1,-1.5)(67.8,1.6)(68.5,-1.0)(69.2,1.4)(69.9,-1.2)(70.6,1.2)(71.3,-0.9)(72.0,1.0)(72.7,-0.8)(73.4,1.0)(74.1,-0.6)(74.8,0.8)(75.5,-0.9)(76.2,0.8)(76.9,-0.5)(77.6,1.2)(78.3,-0.4)(79.0,0.8)(79.6,-0.2)(80,0.4)};
\addlegendentry{C1 Ti (SCT-B2 19)}
\addplot[cF] coordinates {(0,0.3)(1.0,0.0)(2.0,0.5)(3.0,-0.1)(4.0,0.4)(5.0,-0.2)(6.0,0.5)(7.0,-0.3)(8.0,0.6)(9.0,-0.3)(10.0,0.7)(11.0,-0.4)(12.0,0.8)(13.0,-0.5)(14.0,0.9)(15.0,-0.8)(15.9,1.5)(16.7,2.5)(17.3,-2.5)(18.0,1.0)(18.7,-1.5)(19.4,2.0)(20.1,-2.0)(20.8,1.5)(21.5,-1.8)(22.2,1.0)(22.8,-4.0)(23.5,2.0)(24.2,-4.8)(24.8,7.8)(25.6,-3.4)(26.3,-2.9)(27.0,2.0)(27.7,-1.5)(28.3,3.0)(29.0,-2.0)(29.7,1.5)(30.4,-2.5)(31.1,2.0)(31.8,-1.8)(32.5,2.5)(33.2,-2.0)(33.9,1.8)(34.6,-2.2)(35.3,2.5)(36.0,-1.5)(36.7,2.0)(37.4,-2.0)(38.1,1.5)(38.7,-1.0)(39.4,-3.5)(40.1,2.0)(40.8,-1.0)(41.5,2.5)(42.2,-2.0)(42.9,2.0)(43.6,-2.5)(44.3,1.5)(45.0,-2.0)(45.8,1.0)(46.7,4.1)(47.3,-4.4)(48.0,1.5)(48.7,-1.5)(49.4,2.0)(50.1,-2.5)(50.8,2.5)(51.5,-1.5)(52.2,2.0)(52.9,-2.0)(53.6,1.5)(54.3,-1.0)(55.0,2.0)(55.7,-1.5)(56.4,1.5)(57.1,-2.0)(57.8,1.0)(58.6,3.1)(59.6,-3.0)(60.2,3.75)(60.9,-1.5)(61.5,0.5)(62.0,2.9)(62.5,-2.4)(63.2,0.5)(63.9,-4.6)(64.6,4.0)(65.3,-1.5)(66.2,2.8)(66.9,-1.0)(67.6,1.5)(68.3,-2.0)(69.0,1.5)(69.7,-1.5)(70.4,1.2)(71.1,-1.0)(71.8,1.0)(72.8,-2.1)(73.4,1.8)(74.1,-0.8)(74.8,0.8)(75.5,-0.6)(76.2,1.0)(76.9,-0.9)(77.6,1.2)(78.3,-0.5)(79.0,1.0)(79.6,-0.8)(80,-1.0)};
\addlegendentry{C2 Ti (SCT-B2 19)}
\addplot[cG] coordinates {(0,0.2)(0.9,0.4)(1.8,0.0)(2.7,0.4)(3.6,-0.1)(4.5,0.4)(5.4,-0.1)(6.3,0.5)(7.2,-0.2)(8.1,0.5)(9.0,-0.2)(9.9,0.5)(10.8,-0.3)(11.7,0.6)(12.6,-0.3)(13.5,0.6)(14.4,-0.4)(15.3,0.7)(16.2,-0.5)(17.1,0.8)(18.0,-0.6)(18.9,0.9)(19.8,-0.7)(20.7,1.0)(21.6,-0.8)(22.5,1.0)(23.4,-0.8)(24.3,1.0)(25.2,-0.9)(26.1,1.1)(27.0,-0.8)(27.9,1.0)(28.8,-0.9)(29.7,1.0)(30.6,-0.8)(31.5,1.0)(32.4,-0.8)(33.3,0.9)(34.2,-0.8)(35.1,1.0)(36.0,-0.7)(36.9,0.9)(37.8,-0.8)(38.7,0.9)(39.6,-0.7)(40.5,0.8)(41.4,-0.7)(42.3,0.8)(43.2,-0.6)(44.1,0.8)(45.0,-0.6)(45.9,0.7)(46.8,-0.6)(47.7,0.7)(48.6,-0.5)(49.5,0.7)(50.4,-0.5)(51.3,0.6)(52.2,-0.5)(53.1,0.6)(54.0,-0.4)(54.9,0.6)(55.8,-0.4)(56.7,0.5)(57.6,-0.4)(58.5,0.5)(59.4,-0.3)(60.3,0.5)(61.2,-0.3)(62.1,0.5)(63.0,-0.3)(63.9,0.5)(64.8,-0.2)(65.7,0.5)(66.6,-0.2)(67.5,0.4)(68.4,-0.2)(69.3,0.4)(70.2,-0.1)(71.1,0.4)(72.0,-0.1)(72.9,0.5)(73.8,0.0)(74.7,0.4)(75.6,0.0)(76.5,0.5)(77.4,0.0)(78.3,0.5)(79.2,0.1)(80,0.4)};
\addlegendentry{C1 Ti (CCUT-CL 09)}
\addplot[cH] coordinates {(0,0.3)(0.7,0.0)(1.4,0.5)(2.1,0.0)(2.8,0.5)(3.5,-0.1)(4.2,0.5)(4.9,-0.1)(5.6,0.5)(6.3,-0.2)(7.0,0.6)(7.7,-0.2)(8.4,0.6)(9.1,-0.3)(9.8,0.6)(10.5,-0.3)(11.2,0.7)(11.9,-0.3)(12.6,0.7)(13.3,-0.4)(14.0,0.7)(14.7,-0.4)(15.4,0.8)(16.1,-0.5)(16.8,0.9)(17.5,-0.6)(18.2,1.0)(18.9,-0.7)(19.6,1.0)(20.3,-0.7)(21.0,1.1)(21.7,-0.8)(22.4,1.0)(23.1,-0.8)(23.8,1.1)(24.5,-0.9)(25.2,1.0)(25.9,-0.8)(26.6,1.0)(27.3,-0.9)(28.0,1.0)(28.7,-0.8)(29.4,0.9)(30.1,-0.8)(30.8,1.0)(31.5,-0.7)(32.2,0.9)(32.9,-0.7)(33.6,0.9)(34.3,-0.8)(35.0,0.9)(35.7,-0.7)(36.4,0.8)(37.1,-0.7)(37.8,0.8)(38.5,-0.6)(39.2,0.8)(39.9,-0.6)(40.6,0.8)(41.3,-0.6)(42.0,0.7)(42.7,-0.5)(43.4,0.7)(44.1,-0.5)(44.8,0.7)(45.5,-0.5)(46.2,0.6)(46.9,-0.5)(47.6,0.6)(48.3,-0.4)(49.0,0.6)(49.7,-0.4)(50.4,0.6)(51.1,-0.4)(51.8,0.5)(52.5,-0.3)(53.2,0.5)(53.9,-0.3)(54.6,0.5)(55.3,-0.3)(56.0,0.5)(56.7,-0.2)(57.4,0.5)(58.1,-0.2)(58.8,0.5)(59.5,-0.2)(60.2,0.4)(60.9,-0.1)(61.6,0.4)(62.3,-0.1)(63.0,0.4)(63.7,-0.1)(64.4,0.4)(65.1,0.0)(65.8,0.4)(66.5,0.0)(67.2,0.4)(67.9,0.0)(68.6,0.5)(69.3,0.0)(70.0,0.5)(70.7,0.0)(71.4,0.5)(72.1,0.0)(72.8,0.5)(73.5,0.1)(74.2,0.5)(74.9,0.1)(75.6,0.6)(76.3,0.1)(77.0,0.6)(77.7,0.1)(78.4,0.7)(79.1,0.2)(80,0.6)};
\addlegendentry{C2 Ti (CCUT-CL 09)}
\addplot[cI] coordinates {(0,0.3)(0.8,0.1)(1.6,0.4)(2.4,0.0)(3.2,0.4)(4.0,0.0)(4.8,0.4)(5.6,0.0)(6.4,0.4)(7.2,-0.1)(8.0,0.5)(8.8,-0.1)(9.6,0.5)(10.4,-0.1)(11.2,0.6)(12.0,-0.2)(12.8,0.6)(13.6,-0.2)(14.4,0.5)(15.2,-0.3)(16.0,0.6)(16.8,-0.5)(17.6,1.5)(18.4,-1.0)(19.2,2.0)(20.0,-1.5)(20.8,1.0)(21.6,-1.0)(22.3,2.0)(23.0,-1.5)(23.7,1.5)(24.4,-2.0)(25.1,1.0)(25.8,-1.5)(26.5,1.8)(27.2,-1.2)(27.9,1.5)(28.6,-2.0)(29.3,1.5)(30.0,-1.0)(30.6,2.7)(31.3,-1.5)(32.0,1.0)(32.9,4.7)(33.4,-4.9)(34.0,4.1)(34.7,-1.0)(35.4,-2.2)(36.1,1.5)(37.0,1.9)(37.7,-1.5)(38.4,1.0)(39.0,-2.0)(39.5,2.0)(40.2,-1.0)(40.9,1.5)(41.6,-1.5)(42.3,1.0)(43.0,-2.0)(43.7,1.5)(44.4,-1.0)(45.1,1.2)(45.8,-1.5)(46.5,1.0)(47.2,-1.0)(47.9,1.2)(48.6,-1.2)(49.3,1.0)(50.0,-1.0)(50.7,1.0)(51.4,-1.2)(52.0,2.5)(52.7,-1.0)(53.4,1.0)(54.1,-0.8)(54.8,0.8)(55.5,-1.0)(56.2,1.2)(56.9,-0.6)(57.6,0.8)(58.3,-1.0)(59.0,1.0)(59.7,-0.5)(60.4,0.8)(61.1,-1.0)(61.8,1.2)(62.5,-0.8)(63.2,0.6)(63.9,-0.8)(64.6,0.8)(65.3,-0.5)(66.0,0.5)(66.7,-0.8)(67.4,0.6)(68.1,-0.3)(68.8,0.8)(69.5,-0.5)(70.2,0.6)(70.9,-0.3)(71.6,0.5)(72.3,-0.5)(73.0,0.6)(73.7,-0.2)(74.4,0.5)(75.1,-0.3)(75.8,0.4)(76.5,-0.2)(77.2,0.5)(77.9,-0.3)(78.6,0.6)(79.3,-0.1)(80,0.3)};
\addlegendentry{C1 Ti (CCUT-CL 19)}
\addplot[cJ] coordinates {(0,0.3)(0.6,0.1)(1.2,0.4)(1.8,0.0)(2.4,0.4)(3.0,0.0)(3.6,0.4)(4.2,0.0)(4.8,0.4)(5.4,0.0)(6.0,0.5)(6.6,-0.1)(7.2,0.5)(7.8,-0.2)(8.4,0.6)(9.0,-0.2)(9.6,0.4)(10.2,-0.3)(10.8,0.5)(11.4,-0.7)(12.0,1.0)(12.6,-0.5)(13.2,0.8)(13.8,-0.6)(14.4,0.6)(15.0,-0.3)(15.6,0.8)(16.2,-0.8)(16.8,0.5)(17.4,-0.3)(18.0,1.5)(18.6,-1.0)(19.2,1.5)(19.8,-0.5)(20.4,2.0)(21.0,-4.2)(21.6,7.4)(22.2,-6.6)(22.9,3.75)(23.6,-2.0)(24.2,1.5)(24.9,4.2)(25.6,-2.0)(26.2,-6.4)(26.8,9.25)(27.4,-8.4)(27.9,6.2)(28.5,-1.0)(29.1,1.5)(29.7,-2.5)(30.3,2.0)(30.9,-2.0)(31.5,1.0)(32.1,-1.5)(32.7,3.0)(33.3,-1.8)(33.9,1.0)(34.5,-2.0)(35.1,1.5)(35.6,-2.5)(36.1,3.7)(36.7,-1.0)(37.3,0.8)(37.8,-2.0)(38.3,4.5)(38.9,-1.5)(39.5,1.0)(40.1,-5.2)(40.7,3.0)(41.3,-1.0)(41.9,1.5)(42.5,-2.5)(43.1,0.5)(43.7,5.1)(44.5,-6.1)(45.0,6.7)(45.6,-1.5)(46.2,1.5)(46.8,-2.5)(47.4,1.0)(48.0,-1.5)(48.5,1.0)(49.0,3.9)(49.6,-4.5)(50.2,1.5)(50.8,-1.5)(51.3,0.5)(51.8,2.0)(52.4,-2.0)(53.1,4.2)(53.8,-4.3)(54.4,1.0)(55.0,-0.5)(55.6,1.0)(56.2,-0.8)(56.8,0.5)(57.4,-1.0)(58.0,1.5)(58.6,-1.0)(59.2,2.0)(59.8,-1.5)(60.4,1.0)(61.0,-1.0)(61.6,1.5)(62.2,-1.2)(62.9,0.5)(63.6,2.7)(64.2,-1.5)(64.9,-2.5)(65.5,1.5)(66.1,-1.0)(66.7,1.0)(67.2,-3.2)(67.9,2.4)(68.6,-0.5)(69.4,-3.0)(70.0,2.9)(70.6,-0.5)(71.2,0.5)(71.6,-1.0)(72.0,2.3)(72.6,-0.8)(73.2,0.6)(73.8,-0.5)(74.4,0.8)(75.0,-0.8)(75.6,0.5)(76.2,-0.6)(76.8,0.6)(77.4,-0.5)(78.0,0.4)(78.7,1.55)(79.3,-0.5)(80,0.5)};
\addlegendentry{C2 Ti (CCUT-CL 19)}
\end{axis}
\node at (10pt,348.5pt) {\fontsize{16}{18}\selectfont a)};
\node at (10pt,8pt) {\fontsize{16}{18}\selectfont b)};
\end{tikzpicture}
\end{document}
